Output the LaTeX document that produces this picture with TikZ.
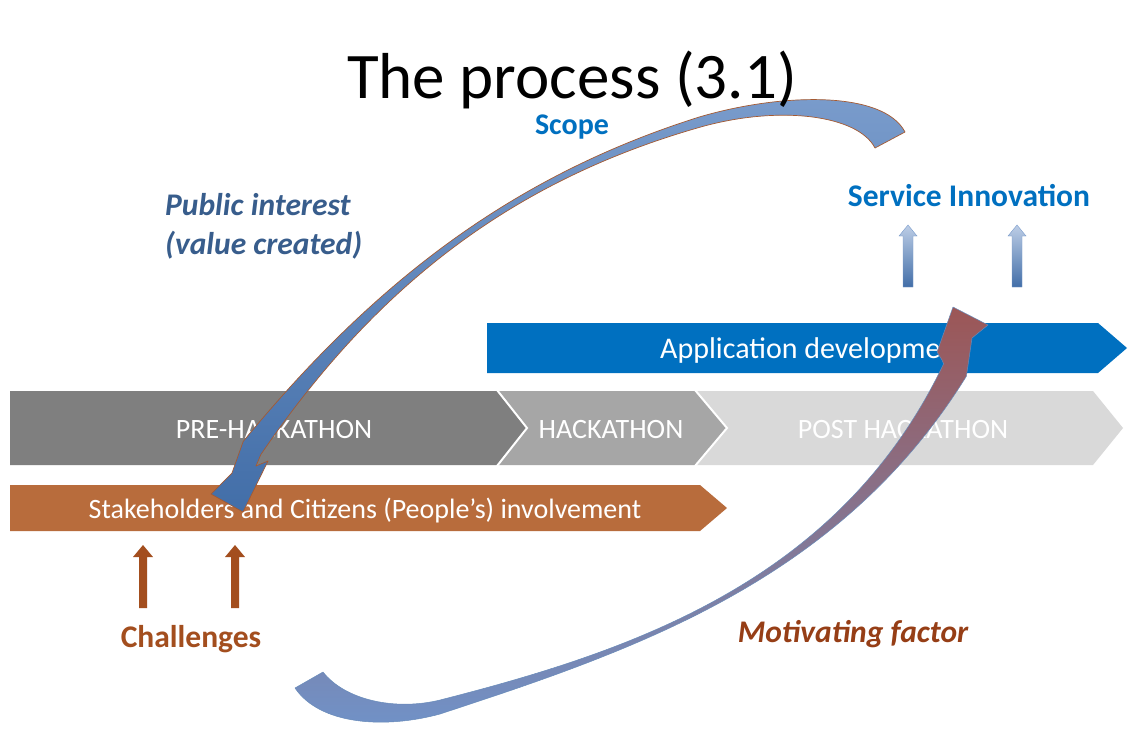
\documentclass[tikz,border=0pt]{standalone}
\usepackage{fontspec}
\setmainfont{Carlito}
\definecolor{appblue}{RGB}{0,112,192}
\definecolor{gA}{RGB}{127,127,127}
\definecolor{gB}{RGB}{166,166,166}
\definecolor{gC}{RGB}{217,217,217}
\definecolor{orng}{RGB}{184,108,60}
\definecolor{pblue}{RGB}{56,93,140}
\definecolor{brnA}{RGB}{163,78,30}
\definecolor{brnB}{RGB}{150,62,22}
\definecolor{arrA}{RGB}{122,156,204}
\definecolor{arrB}{RGB}{66,110,168}
\definecolor{arrR}{RGB}{156,86,86}
\definecolor{arrL}{RGB}{112,146,200}
\definecolor{edgeB}{RGB}{165,90,50}
\begin{document}
\begin{tikzpicture}[x=1pt,y=-1pt,
  bartext/.style={text=white,font=\fontsize{28}{32}\selectfont,inner sep=0pt},
  lab/.style={font=\fontsize{31.5}{37}\selectfont\bfseries,inner sep=0pt},
  labit/.style={font=\fontsize{31.5}{37}\selectfont\bfseries\itshape,inner sep=0pt},
  sep/.style={draw=white,line width=2pt,line join=miter}]
\useasboundingbox (0,0) rectangle (1129,729);
\fill[white] (0,0) rectangle (1129,729);

% application development bar
\fill[appblue] (487,323) -- (1098,323) -- (1127,348) -- (1098,373) -- (487,373) -- cycle;
\node[bartext,font=\fontsize{30}{34}\selectfont,anchor=base west] (app) at (660,358) {Application development};

% phase chevrons
\fill[gC] (695,391) -- (1093,391) -- (1123,428) -- (1093,465) -- (695,465) -- (727,428) -- cycle;
\fill[gB] (497,391) -- (695,391) -- (727,428) -- (695,465) -- (497,465) -- (527,428) -- cycle;
\fill[gA] (10,391) -- (497,391) -- (527,428) -- (497,465) -- (10,465) -- cycle;
\draw[sep] (497,390) -- (527,428) -- (497,466);
\draw[sep] (695,390) -- (727,428) -- (695,466);
\node[bartext,anchor=base] (pre) at (274,438) {PRE-HACKATHON};
\node[bartext,anchor=base] (hack) at (611,438) {HACKATHON};
\node[bartext,anchor=base] (post) at (903,438) {POST HACKATHON};

% stakeholders bar
\fill[orng] (10,485) -- (700,485) -- (727,508) -- (700,531) -- (10,531) -- cycle;
\node[bartext,anchor=base] (stake) at (365,518) {Stakeholders and Citizens (People’s) involvement};

% big curved arrow 1 (scope -> stakeholders)
\path[top color=arrA,bottom color=arrB,draw=edgeB,line width=0.7pt,line join=round]
  (905,132) .. controls (883,90) and (780,93) .. (698.6,117.2)
  .. controls (507.8,177.5) and (370.4,286.8) .. (243.2,441.4)
  -- (232,473) -- (211,494) -- (243,512) -- (268,461) -- (256,466) -- (260.8,454.6)
  .. controls (373.6,289.2) and (509,181.3) .. (701.4,126.8)
  .. controls (780,105) and (858,115) .. (875,148) -- cycle;

% big curved arrow 2 (challenges -> application development)
\path[top color=arrR,bottom color=arrL,middle color=arrR!50!arrL,draw=arrB!80,line width=0.5pt,line join=round]
  (295,688) .. controls (320,725) and (385,729) .. (440,714)
  .. controls (632,651) and (839.8,581.2) .. (966.4,376.2)
  -- (972,338) -- (988,325) -- (953,307) -- (937,352) -- (942,360) -- (943.6,363.8)
  .. controls (839.8,581.2) and (632,651) .. (440,700)
  .. controls (395,711) and (345,700) .. (323,672) -- cycle;

% small arrows
\fill[brnA] (139,608) -- (139,557) -- (133,557) -- (143,545) -- (153,557) -- (147,557) -- (147,608) -- cycle;
\fill[brnA] (231,608) -- (231,557) -- (225,557) -- (235,545) -- (245,557) -- (239,557) -- (239,608) -- cycle;
\path[top color=arrA!50,bottom color=arrB,draw=arrA,line width=0.4pt] (903,287) -- (903,236) -- (899,236) -- (908,225) -- (917,236) -- (913,236) -- (913,287) -- cycle;
\path[top color=arrA!50,bottom color=arrB,draw=arrA,line width=0.4pt] (1012,287) -- (1012,236) -- (1008,236) -- (1017,225) -- (1026,236) -- (1022,236) -- (1022,287) -- cycle;

% labels
\node[lab,font=\fontsize{30}{36}\selectfont\bfseries,text=appblue,anchor=base] (scope) at (572,134) {Scope};
\node[lab,text=appblue,anchor=base] (serv) at (969,206) {Service Innovation};
\node[labit,text=pblue,anchor=base west] (pub1) at (165,215) {Public interest};
\node[labit,text=pblue,anchor=base west] (pub2) at (165,254) {(value created)};
\node[lab,text=brnA,anchor=base] (chal) at (191,647) {Challenges};
\node[labit,text=brnB,anchor=base] (motiv) at (853,642) {Motivating factor};

% title
\node[inner sep=0pt,text depth=0pt,anchor=base,font=\fontsize{65}{72}\selectfont] (title) at (572,98) {The process (3.1)};
\end{tikzpicture}
\end{document}
